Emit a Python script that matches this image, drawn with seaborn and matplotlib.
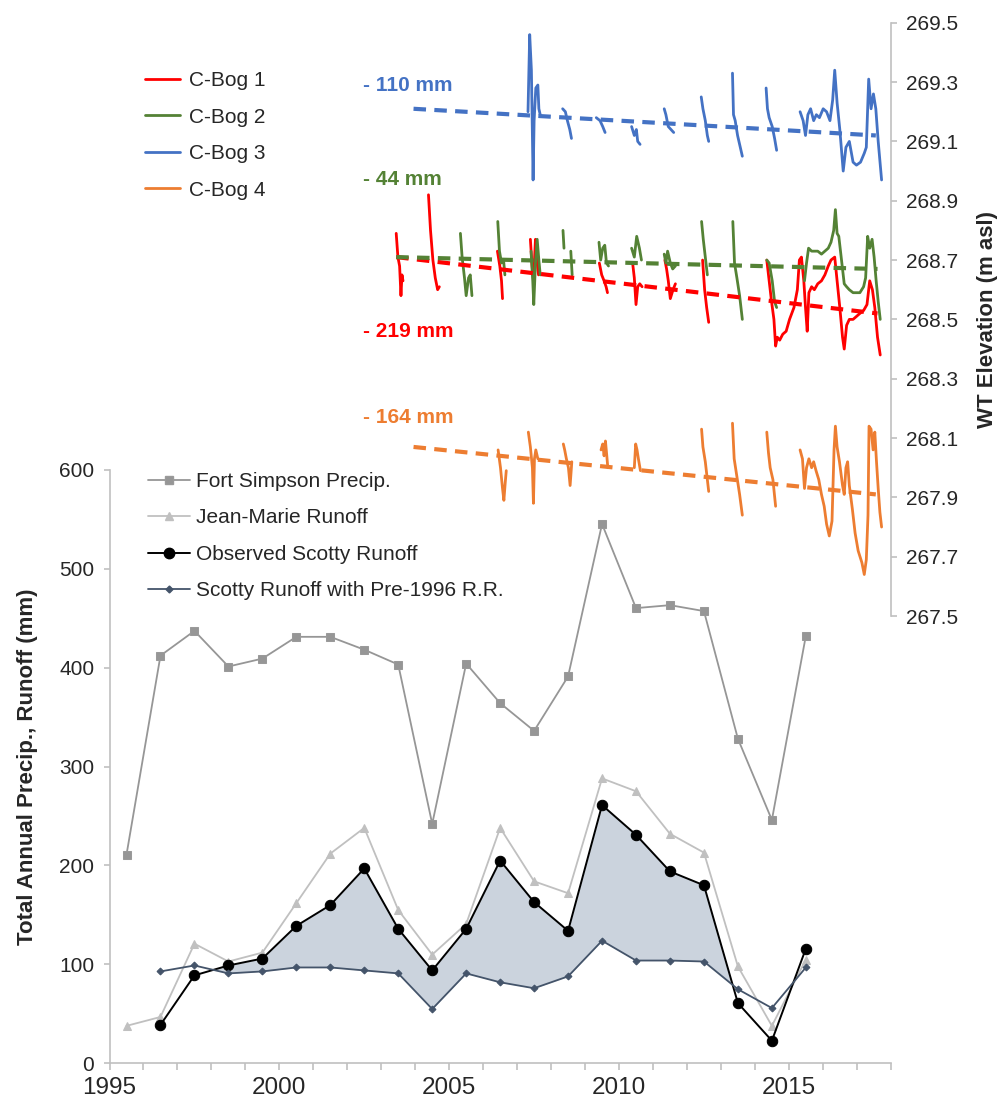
import numpy as np
import pandas as pd
import seaborn as sns
import matplotlib.pyplot as plt
from matplotlib.lines import Line2D
from matplotlib.ticker import MultipleLocator, FormatStrFormatter

sns.set_style('white')
plt.rcParams['font.family'] = ['Liberation Sans', 'DejaVu Sans']

# ---- annual precip / runoff (mm), plotted at mid-year ----
fs_years = [1995.5 + i for i in range(21)]
fs_precip = [211, 412, 437, 401, 409, 431, 431, 418, 403, 242, 404,
             364, 336, 391, 545, 460, 463, 457, 328, 246, 432]
jm_runoff = [38, 47, 121, 103, 112, 162, 212, 238, 155, 110, 141,
             238, 184, 172, 288, 275, 232, 213, 98, 38, 105]
obs_years = [1996.5 + i for i in range(20)]
obs_runoff = [39, 89, 99, 106, 139, 160, 197, 136, 94, 136,
              205, 163, 134, 261, 231, 194, 180, 61, 23, 116]
rr_runoff = [93, 99, 91, 93, 97, 97, 94, 91, 55, 91,
             82, 76, 88, 124, 104, 104, 103, 75, 56, 97]

# ---- water table elevation (m asl), seasonal records (year, elevation) ----
bog1 = [
    [(2003.44, 268.79), (2003.49, 268.71), (2003.54, 268.68), (2003.58, 268.58), (2003.61, 268.65), (2003.64, 268.63)],
    [(2004.39, 268.92), (2004.45, 268.80), (2004.52, 268.70), (2004.59, 268.64), (2004.66, 268.60), (2004.71, 268.61)],
    [(2006.42, 268.73), (2006.49, 268.68), (2006.54, 268.63), (2006.57, 268.57)],
    [(2007.39, 268.77), (2007.44, 268.68), (2007.48, 268.63), (2007.54, 268.77), (2007.58, 268.70), (2007.63, 268.65)],
    [(2009.42, 268.69), (2009.49, 268.65), (2009.56, 268.63), (2009.62, 268.61), (2009.66, 268.59)],
    [(2010.40, 268.69), (2010.45, 268.64), (2010.50, 268.55), (2010.55, 268.61), (2010.61, 268.62), (2010.68, 268.61)],
    [(2011.35, 268.70), (2011.40, 268.67), (2011.45, 268.63), (2011.51, 268.57), (2011.59, 268.60), (2011.66, 268.62)],
    [(2012.46, 268.70), (2012.52, 268.60), (2012.58, 268.54), (2012.64, 268.49)],
    [(2014.35, 268.70), (2014.42, 268.63), (2014.49, 268.56), (2014.56, 268.50), (2014.61, 268.41), (2014.66, 268.44),
     (2014.73, 268.43), (2014.82, 268.45), (2014.92, 268.46), (2015.02, 268.50), (2015.15, 268.54), (2015.25, 268.60),
     (2015.31, 268.70), (2015.37, 268.71), (2015.44, 268.63), (2015.49, 268.54), (2015.54, 268.46), (2015.59, 268.59),
     (2015.67, 268.61), (2015.75, 268.60), (2015.85, 268.62), (2015.96, 268.63), (2016.06, 268.65), (2016.16, 268.68),
     (2016.24, 268.70), (2016.35, 268.71), (2016.42, 268.63), (2016.50, 268.54), (2016.58, 268.44), (2016.63, 268.40),
     (2016.70, 268.48), (2016.78, 268.50), (2016.89, 268.50), (2016.99, 268.51), (2017.09, 268.52), (2017.20, 268.53),
     (2017.30, 268.55), (2017.38, 268.63), (2017.46, 268.60), (2017.53, 268.54), (2017.61, 268.44), (2017.69, 268.38)],
]
bog2 = [
    [(2005.33, 268.79), (2005.38, 268.71), (2005.45, 268.64), (2005.50, 268.58), (2005.57, 268.64), (2005.62, 268.65), (2005.67, 268.58)],
    [(2006.43, 268.83), (2006.48, 268.73), (2006.54, 268.69), (2006.60, 268.70), (2006.64, 268.65)],
    [(2007.41, 268.73), (2007.46, 268.63), (2007.49, 268.55), (2007.54, 268.69), (2007.59, 268.77), (2007.64, 268.70), (2007.68, 268.65)],
    [(2008.35, 268.80), (2008.38, 268.74)],
    [(2008.58, 268.73), (2008.60, 268.69), (2008.62, 268.65)],
    [(2009.41, 268.76), (2009.46, 268.70), (2009.52, 268.74), (2009.58, 268.75), (2009.63, 268.69), (2009.69, 268.68)],
    [(2010.37, 268.74), (2010.45, 268.71), (2010.52, 268.78), (2010.60, 268.74), (2010.66, 268.70)],
    [(2011.33, 268.72), (2011.38, 268.69), (2011.43, 268.73), (2011.51, 268.69), (2011.58, 268.67), (2011.66, 268.68)],
    [(2012.43, 268.83), (2012.48, 268.77), (2012.54, 268.71), (2012.60, 268.65)],
    [(2013.35, 268.83), (2013.40, 268.69), (2013.47, 268.64), (2013.55, 268.58), (2013.63, 268.50)],
    [(2014.35, 268.70), (2014.42, 268.69), (2014.51, 268.63), (2014.58, 268.56), (2014.64, 268.54)],
    [(2015.46, 268.63), (2015.52, 268.69), (2015.58, 268.74), (2015.67, 268.73), (2015.75, 268.73), (2015.85, 268.73),
     (2015.96, 268.72), (2016.06, 268.73), (2016.16, 268.74), (2016.24, 268.76), (2016.32, 268.80), (2016.37, 268.87),
     (2016.42, 268.79), (2016.47, 268.78), (2016.56, 268.69), (2016.63, 268.62), (2016.70, 268.61), (2016.78, 268.60),
     (2016.89, 268.59), (2016.99, 268.59), (2017.09, 268.59), (2017.20, 268.61), (2017.26, 268.64), (2017.32, 268.78),
     (2017.38, 268.74), (2017.45, 268.77), (2017.51, 268.71), (2017.57, 268.63), (2017.63, 268.56), (2017.69, 268.50)],
]
bog3 = [
    [(2007.32, 269.20), (2007.37, 269.46), (2007.42, 269.34), (2007.47, 268.97), (2007.50, 269.17), (2007.55, 269.28),
     (2007.61, 269.29), (2007.64, 269.21), (2007.68, 269.19)],
    [(2008.34, 269.21), (2008.42, 269.20), (2008.48, 269.17), (2008.55, 269.14), (2008.60, 269.11)],
    [(2009.33, 269.18), (2009.44, 269.17), (2009.52, 269.15), (2009.59, 269.13)],
    [(2010.37, 269.15), (2010.45, 269.12), (2010.51, 269.14), (2010.55, 269.10), (2010.62, 269.09)],
    [(2011.33, 269.21), (2011.38, 269.19), (2011.45, 269.15), (2011.53, 269.14), (2011.61, 269.13)],
    [(2012.42, 269.25), (2012.47, 269.21), (2012.54, 269.17), (2012.60, 269.12), (2012.64, 269.10)],
    [(2013.34, 269.33), (2013.37, 269.19), (2013.42, 269.17), (2013.49, 269.12), (2013.55, 269.09), (2013.63, 269.05)],
    [(2014.33, 269.28), (2014.37, 269.21), (2014.42, 269.18), (2014.51, 269.15), (2014.58, 269.11), (2014.64, 269.07)],
    [(2015.33, 269.20), (2015.42, 269.17), (2015.49, 269.12), (2015.56, 269.19), (2015.64, 269.21), (2015.73, 269.17),
     (2015.81, 269.19), (2015.90, 269.18), (2016.01, 269.21), (2016.11, 269.20), (2016.21, 269.17), (2016.29, 269.24),
     (2016.35, 269.34), (2016.42, 269.23), (2016.50, 269.14), (2016.60, 269.00), (2016.68, 269.08), (2016.78, 269.10),
     (2016.89, 269.03), (2016.99, 269.02), (2017.11, 269.03), (2017.22, 269.06), (2017.28, 269.08), (2017.35, 269.31),
     (2017.42, 269.21), (2017.49, 269.26), (2017.56, 269.21), (2017.63, 269.10), (2017.73, 268.97)],
]
bog4 = [
    [(2006.44, 268.06), (2006.51, 268.00), (2006.57, 267.93), (2006.61, 267.89), (2006.65, 267.95), (2006.68, 267.99)],
    [(2007.33, 268.12), (2007.39, 268.07), (2007.45, 268.00), (2007.48, 267.88), (2007.51, 268.03), (2007.55, 268.06), (2007.61, 268.03)],
    [(2008.36, 268.08), (2008.40, 268.06), (2008.45, 268.03), (2008.51, 268.00), (2008.56, 267.94), (2008.61, 268.02)],
    [(2009.47, 268.06), (2009.52, 268.08), (2009.56, 268.04), (2009.60, 268.09), (2009.64, 268.04), (2009.67, 268.00)],
    [(2010.45, 268.00), (2010.49, 268.08), (2010.53, 268.06), (2010.57, 268.03), (2010.63, 267.99)],
    [(2012.43, 268.13), (2012.47, 268.07), (2012.54, 268.02), (2012.60, 267.96), (2012.64, 267.92)],
    [(2013.34, 268.15), (2013.39, 268.03), (2013.47, 267.97), (2013.55, 267.91), (2013.63, 267.84)],
    [(2014.35, 268.12), (2014.40, 268.05), (2014.45, 268.00), (2014.53, 267.96), (2014.61, 267.87)],
    [(2015.33, 268.06), (2015.40, 268.03), (2015.46, 267.93), (2015.52, 268.00), (2015.59, 268.03), (2015.67, 268.00),
     (2015.73, 268.02), (2015.80, 267.99), (2015.88, 267.96), (2015.96, 267.91), (2016.04, 267.87), (2016.11, 267.81),
     (2016.19, 267.77), (2016.27, 267.82), (2016.33, 268.06), (2016.37, 268.14), (2016.42, 268.07), (2016.49, 268.02),
     (2016.58, 267.94), (2016.63, 267.91), (2016.68, 268.00), (2016.73, 268.02), (2016.78, 267.94), (2016.87, 267.86),
     (2016.95, 267.78), (2017.04, 267.72), (2017.15, 267.68), (2017.22, 267.64), (2017.28, 267.69), (2017.33, 267.84),
     (2017.36, 268.14), (2017.42, 268.13), (2017.48, 268.06), (2017.53, 268.12), (2017.58, 268.02), (2017.63, 267.93),
     (2017.68, 267.85), (2017.73, 267.80)],
]

# linear trend end points (year, elevation)
trend1 = [(2003.44, 268.71), (2017.61, 268.52)]
trend2 = [(2003.44, 268.71), (2017.61, 268.67)]
trend3 = [(2003.95, 269.21), (2017.56, 269.12)]
trend4 = [(2003.95, 268.07), (2017.56, 267.91)]

bog_labels = ['C-Bog 1', 'C-Bog 2', 'C-Bog 3', 'C-Bog 4']
bog_colors = ['#ff0000', '#548235', '#4472c4', '#ed7d31']
change_text = ['- 219 mm', '- 44 mm', '- 110 mm', '- 164 mm']
change_y = [268.46, 268.97, 269.29, 268.17]


def seg_frame(segs):
    rows = [(i, t, z) for i, seg in enumerate(segs) for t, z in seg]
    return pd.DataFrame(rows, columns=['seg', 'year', 'elev'])


fig = plt.figure(figsize=(10.03, 11.04), dpi=100)
ax1 = fig.add_axes([0.1092, 0.0367, 0.7789, 0.5380])
ax2 = fig.add_axes([0.1092, 0.4420, 0.7789, 0.5374])

# ---- bottom panel ----
ax1.fill_between(obs_years, obs_runoff, rr_runoff,
                 where=[(o >= r) and (y < 2014) for o, r, y in zip(obs_runoff, rr_runoff, obs_years)],
                 interpolate=True, color='#cbd3dd', lw=0, zorder=1)
sns.lineplot(x=fs_years, y=fs_precip, ax=ax1, color='#969696', lw=1.3, marker='s',
             markersize=6, markeredgecolor='#9a9a9a', zorder=3)
sns.lineplot(x=fs_years, y=jm_runoff, ax=ax1, color='#c0c0c0', lw=1.3, marker='^',
             markersize=5.5, markeredgecolor='#c0c0c0', zorder=3)
sns.lineplot(x=obs_years, y=obs_runoff, ax=ax1, color='black', lw=1.4, marker='o',
             markersize=7.5, markeredgecolor='black', zorder=4)
sns.lineplot(x=obs_years, y=rr_runoff, ax=ax1, color='#44546a', lw=1.3, marker='D',
             markersize=3.5, markeredgecolor='#44546a', zorder=4)

ax1.set_xlim(1995, 2018)
ax1.set_ylim(0, 600)
ax1.xaxis.set_major_locator(MultipleLocator(5))
ax1.xaxis.set_minor_locator(MultipleLocator(1))
ax1.yaxis.set_major_locator(MultipleLocator(100))
for s in ['top', 'right']:
    ax1.spines[s].set_visible(False)
for s in ['left', 'bottom']:
    ax1.spines[s].set_color('#c0c0c0')
    ax1.spines[s].set_linewidth(1.2)
ax1.tick_params(axis='x', which='both', bottom=True, direction='out', length=5,
                width=1.2, color='#c0c0c0', labelsize=17.5, pad=5)
ax1.tick_params(axis='y', which='major', left=True, direction='out', length=4,
                width=1.2, color='#c0c0c0', labelsize=15, pad=7)
ax1.set_ylabel('Total Annual Precip., Runoff (mm)', fontsize=16, fontweight='bold')
ax1.yaxis.set_label_coords(-0.0916, 0.5)
ax1.set_xlabel('')

# ---- top panel: water table ----
for segs, col in zip([bog1, bog2, bog3, bog4], bog_colors):
    sns.lineplot(data=seg_frame(segs), x='year', y='elev', units='seg', estimator=None,
                 sort=False, color=col, lw=2, ax=ax2, legend=False)
for tr, col in zip([trend1, trend2, trend3, trend4], bog_colors):
    sns.lineplot(x=[p[0] for p in tr], y=[p[1] for p in tr], ax=ax2, color=col,
                 lw=3, linestyle=(0, (3, 2)), zorder=5)
for txt, yy, col in zip(change_text, change_y, bog_colors):
    ax2.text(2002.45, yy, txt, color=col, fontsize=15, fontweight='bold', va='center')

ax2.set_xlim(1995, 2018)
ax2.set_ylim(267.5, 269.5)
ax2.set_yticks(np.arange(267.5, 269.51, 0.2))
ax2.yaxis.set_major_formatter(FormatStrFormatter('%.1f'))
ax2.yaxis.tick_right()
ax2.yaxis.set_label_position('right')
ax2.set_xticks([])
ax2.set_xlabel('')
ax2.patch.set_visible(False)
for s in ['top', 'left', 'bottom']:
    ax2.spines[s].set_visible(False)
ax2.spines['right'].set_color('#c0c0c0')
ax2.spines['right'].set_linewidth(1.2)
ax2.tick_params(axis='y', which='major', right=True, direction='out', length=4,
                width=1.2, color='#c0c0c0', labelsize=15, pad=7)
ax2.set_ylabel('WT Elevation (m asl)', fontsize=16, fontweight='bold')
ax2.yaxis.set_label_coords(1.111, 0.5)

# ---- legends ----
wt_handles = [Line2D([], [], color=c, lw=2) for c in bog_colors]
fig.legend(wt_handles, bog_labels, loc='upper left', bbox_to_anchor=(0.1446, 0.9355),
           frameon=False, fontsize=15, handlelength=1.7, handletextpad=0.4,
           labelspacing=0.84, borderpad=0, borderaxespad=0)

p_handles = [
    Line2D([], [], color='#969696', lw=1.3, marker='s', markersize=6, markeredgecolor='#9a9a9a'),
    Line2D([], [], color='#c0c0c0', lw=1.3, marker='^', markersize=5.5),
    Line2D([], [], color='black', lw=1.4, marker='o', markersize=7.5),
    Line2D([], [], color='#44546a', lw=1.3, marker='D', markersize=3.5),
]
p_labels = ['Fort Simpson Precip.', 'Jean-Marie Runoff', 'Observed Scotty Runoff',
            'Scotty Runoff with Pre-1996 R.R.']
fig.legend(p_handles, p_labels, loc='upper left', bbox_to_anchor=(0.1476, 0.5725),
           frameon=False, fontsize=15, handlelength=2.0, handletextpad=0.3,
           labelspacing=0.84, borderpad=0, borderaxespad=0)

fig.savefig('out.png', dpi=100)
